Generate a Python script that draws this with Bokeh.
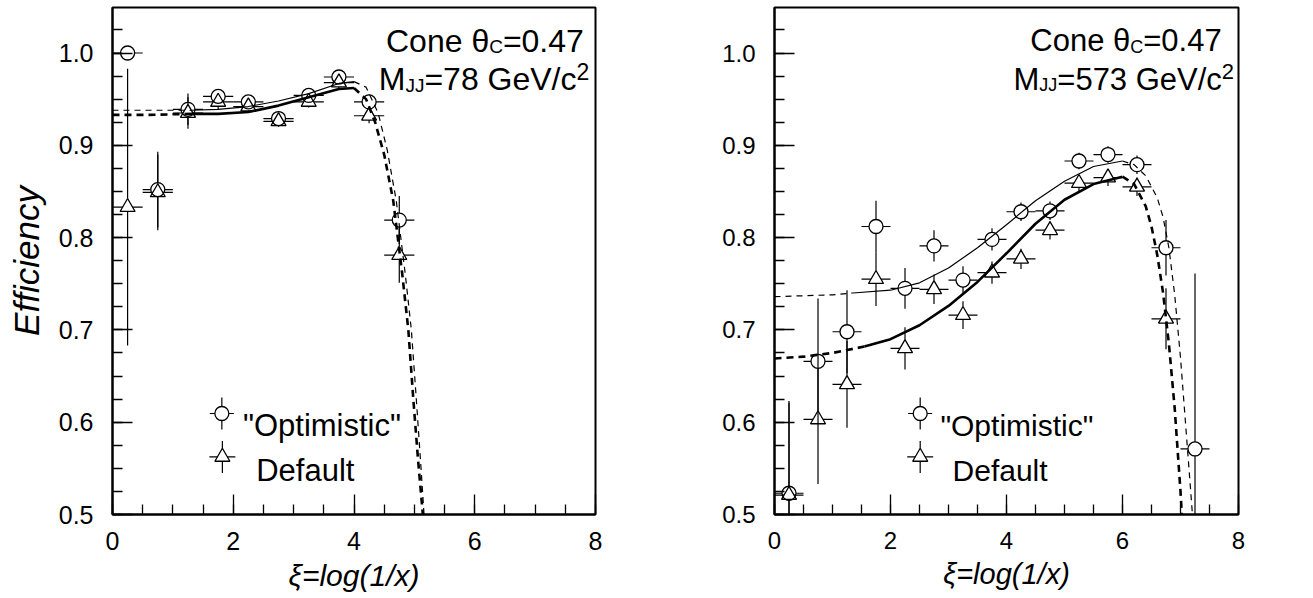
import math
from bokeh.plotting import figure
from bokeh.layouts import row
from bokeh.models import FixedTicker, Label, Range1d, NumeralTickFormatter
from bokeh.embed import file_html
from bokeh.resources import INLINE

# ---------------- data ----------------
bin_half = 0.25

# left panel: M_JJ = 78 GeV/c^2
xi_left = [0.25, 0.75, 1.25, 1.75, 2.25, 2.75, 3.25, 3.75, 4.25, 4.75]
opt_left = [1.000, 0.852, 0.939, 0.953, 0.947, 0.929, 0.954, 0.974, 0.947, 0.819]
opt_left_err = [0.0, 0.041, 0.017, 0.008, 0.006, 0.006, 0.006, 0.006, 0.008, 0.026]
def_left = [0.833, 0.849, 0.935, 0.947, 0.942, 0.926, 0.947, 0.968, 0.932, 0.781]
def_left_err = [0.150, 0.041, 0.017, 0.008, 0.006, 0.006, 0.006, 0.006, 0.008, 0.030]

# left panel fit curves (thin = "Optimistic", thick = Default)
optL_lo_x = [0.0, 0.6, 1.3]
optL_lo_y = [0.938, 0.938, 0.938]
optL_mid_x = [1.3, 1.75, 2.25, 2.75, 3.25, 3.75, 4.0]
optL_mid_y = [0.938, 0.939, 0.942, 0.948, 0.956, 0.967, 0.969]
optL_hi_x = [4.0, 4.2, 4.4, 4.55, 4.7, 4.85, 4.95, 5.03, 5.1, 5.16, 5.2]
optL_hi_y = [0.969, 0.963, 0.935, 0.895, 0.840, 0.760, 0.700, 0.627, 0.560, 0.500, 0.46]
defL_lo_x = [0.0, 0.6, 1.3]
defL_lo_y = [0.933, 0.933, 0.934]
defL_mid_x = [1.3, 1.75, 2.25, 2.75, 3.25, 3.75, 4.0]
defL_mid_y = [0.934, 0.934, 0.936, 0.943, 0.952, 0.961, 0.962]
defL_hi_x = [4.0, 4.2, 4.35, 4.5, 4.65, 4.8, 4.9, 4.98, 5.06, 5.14, 5.18]
defL_hi_y = [0.962, 0.950, 0.925, 0.890, 0.840, 0.760, 0.700, 0.627, 0.560, 0.500, 0.46]

# right panel: M_JJ = 573 GeV/c^2
xi_right = [0.25, 0.75, 1.25, 1.75, 2.25, 2.75, 3.25, 3.75, 4.25, 4.75, 5.25, 5.75, 6.25, 6.75, 7.25]
opt_right = [0.523, 0.666, 0.698, 0.812, 0.745, 0.791, 0.754, 0.798, 0.828, 0.829, 0.883, 0.890, 0.879, 0.789, 0.571]
opt_right_err = [0.100, 0.068, 0.045, 0.028, 0.022, 0.017, 0.015, 0.012, 0.010, 0.010, 0.009, 0.009, 0.010, 0.030, 0.190]
xi_right_def = [0.25, 0.75, 1.25, 1.75, 2.25, 2.75, 3.25, 3.75, 4.25, 4.75, 5.25, 5.75, 6.25, 6.75]
def_right = [0.521, 0.603, 0.641, 0.755, 0.680, 0.744, 0.716, 0.762, 0.777, 0.808, 0.859, 0.865, 0.855, 0.712]
def_right_err = [0.100, 0.070, 0.047, 0.029, 0.023, 0.016, 0.015, 0.012, 0.011, 0.010, 0.009, 0.009, 0.010, 0.033]

optR_lo_x = [0.0, 0.5, 1.0, 1.35]
optR_lo_y = [0.736, 0.737, 0.738, 0.740]
optR_mid_x = [1.35, 2.0, 2.5, 3.0, 3.5, 4.0, 4.5, 5.0, 5.5, 6.0]
optR_mid_y = [0.740, 0.743, 0.751, 0.767, 0.789, 0.814, 0.840, 0.861, 0.877, 0.883]
optR_hi_x = [6.0, 6.2, 6.4, 6.6, 6.7, 6.8, 6.9, 7.0, 7.1, 7.2, 7.25]
optR_hi_y = [0.883, 0.879, 0.867, 0.843, 0.822, 0.789, 0.738, 0.670, 0.588, 0.505, 0.46]
defR_lo_x = [0.0, 0.5, 1.0, 1.55]
defR_lo_y = [0.669, 0.671, 0.675, 0.682]
defR_mid_x = [1.55, 2.0, 2.5, 3.0, 3.5, 4.0, 4.5, 5.0, 5.5, 6.0]
defR_mid_y = [0.682, 0.690, 0.705, 0.726, 0.752, 0.783, 0.815, 0.841, 0.858, 0.866]
defR_hi_x = [6.0, 6.2, 6.4, 6.5, 6.6, 6.7, 6.8, 6.9, 7.0, 7.05]
defR_hi_y = [0.866, 0.858, 0.834, 0.812, 0.781, 0.740, 0.685, 0.615, 0.525, 0.47]

x_major = [0, 2, 4, 6, 8]
y_major = [0.5, 0.6, 0.7, 0.8, 0.9, 1.0]

# ---------------- layout constants ----------------
FONT = "Liberation Sans"
PX_Y = 923.0           # pixels per efficiency unit
FRAME_H = 507
Y_END = 0.5 + FRAME_H / PX_Y

ARIAL = {' ': 0.278, 'C': 0.722, 'o': 0.556, 'n': 0.556, 'e': 0.556, 'θ': 0.556,
         '=': 0.584, '.': 0.278, 'M': 0.833, 'J': 0.5, 'G': 0.778, 'V': 0.667,
         '/': 0.278, 'c': 0.5}
for d in "0123456789":
    ARIAL[d] = 0.556


def tw(s, size):
    return sum(ARIAL.get(ch, 0.556) for ch in s) * size


def make_fig(fw, bl, br, tick_fs, title_fs):
    p = figure(frame_width=fw, frame_height=FRAME_H, min_border_left=bl, min_border_right=br,
               min_border_top=7, min_border_bottom=78,
               x_range=Range1d(0, 8), y_range=Range1d(0.5, Y_END),
               output_backend="svg", toolbar_location=None)
    p.xgrid.visible = False
    p.ygrid.visible = False
    p.outline_line_color = "black"
    p.outline_line_width = 2
    p.background_fill_color = "white"
    p.border_fill_color = "white"
    p.xaxis.ticker = FixedTicker(ticks=x_major, minor_ticks=[0.5 * k for k in range(17)])
    p.yaxis.ticker = FixedTicker(ticks=y_major, minor_ticks=[0.5 + 0.025 * k for k in range(23)])
    p.xaxis.formatter = NumeralTickFormatter(format="0")
    p.yaxis.formatter = NumeralTickFormatter(format="0.0")
    for ax in (p.xaxis, p.yaxis):
        ax.axis_line_width = 2
        ax.axis_line_color = "black"
        ax.major_tick_in = 20
        ax.major_tick_out = 0
        ax.minor_tick_in = 10
        ax.minor_tick_out = 0
        ax.major_tick_line_width = 1.3
        ax.minor_tick_line_width = 1.3
        ax.major_tick_line_color = "black"
        ax.minor_tick_line_color = "black"
        ax.major_label_text_font = FONT
        ax.major_label_text_font_size = f"{tick_fs}px"
        ax.major_label_text_color = "black"
        ax.axis_label_text_font = FONT
        ax.axis_label_text_font_style = "italic"
        ax.axis_label_text_color = "black"
    p.xaxis.major_label_standoff = 17
    p.yaxis.major_label_standoff = 19
    p.xaxis.axis_label = "ξ=log(1/x)"
    p.xaxis.axis_label_text_font_size = f"{title_fs}px"
    p.xaxis.axis_label_standoff = 6
    return p


def errbars(p, xs, ys, errs, pxx, gx, gup, gdn):
    x0, y0, x1, y1 = [], [], [], []
    for x, y, e in zip(xs, ys, errs):
        x0 += [x - bin_half, x + gx / pxx]
        x1 += [x - gx / pxx, x + bin_half]
        y0 += [y, y]
        y1 += [y, y]
        if e * PX_Y > gup:
            x0.append(x); x1.append(x); y0.append(y + gup / PX_Y); y1.append(y + e)
        if e * PX_Y > gdn:
            x0.append(x); x1.append(x); y0.append(y - e); y1.append(y - gdn / PX_Y)
    p.segment(x0, y0, x1, y1, line_color="black", line_width=1.2)


def points(p, xs, ys, errs, marker, pxx):
    if marker == "circle":
        errbars(p, xs, ys, errs, pxx, 7, 7, 7)
        p.scatter(xs, ys, marker="circle", size=14, fill_color=None,
                  line_color="black", line_width=1.3)
    else:
        errbars(p, xs, ys, errs, pxx, 5, 8.7, 4.3)
        p.scatter(xs, ys, marker="triangle", size=15, fill_color=None,
                  line_color="black", line_width=1.3)


def curve(p, xs, ys, thick, dashed):
    p.line(xs, ys, line_color="black", line_width=2.6 if thick else 1.2,
           line_dash=("7 5" if thick else "6 5") if dashed else "solid")


def legend_marker(p, x, y, marker, pxx):
    if marker == "circle":
        gx, gup, gdn, hx = 7, 7, 7, 12
    else:
        gx, gup, gdn, hx = 5, 8.7, 4.3, 13
    vy = 16 / PX_Y
    p.segment([x - hx / pxx, x + gx / pxx, x, x], [y, y, y + gup / PX_Y, y - vy],
              [x - gx / pxx, x + hx / pxx, x, x], [y, y, y + vy, y - gdn / PX_Y],
              line_color="black", line_width=1.2)
    p.scatter([x], [y], marker=marker, size=14 if marker == "circle" else 15,
              fill_color=None, line_color="black", line_width=1.3)


def rich(p, x, y, pieces):
    off = 0.0
    for t, s, dy in pieces:
        p.add_layout(Label(x=x, y=y, x_offset=off, y_offset=dy, text=t,
                           text_font=FONT, text_font_size=f"{s}px",
                           text_color="black", text_align="left",
                           text_baseline="alphabetic"))
        off += tw(t, s)


def txt(p, x, y, t, s):
    p.add_layout(Label(x=x, y=y, text=t, text_font=FONT, text_font_size=f"{s}px",
                       text_color="black", text_align="left", text_baseline="alphabetic"))


# ---------------- left panel ----------------
PXX_L = 60.4
p1 = make_fig(483, 112, 20, 25, 30)
p1.yaxis.axis_label = "Efficiency"
p1.yaxis.axis_label_text_font_size = "35px"
p1.yaxis.axis_label_standoff = 10

curve(p1, optL_lo_x, optL_lo_y, False, True)
curve(p1, optL_mid_x, optL_mid_y, False, False)
curve(p1, optL_hi_x, optL_hi_y, False, True)
curve(p1, defL_lo_x, defL_lo_y, True, True)
curve(p1, defL_mid_x, defL_mid_y, True, False)
curve(p1, defL_hi_x, defL_hi_y, True, True)
points(p1, xi_left, opt_left, opt_left_err, "circle", PXX_L)
points(p1, xi_left, def_left, def_left_err, "triangle", PXX_L)

rich(p1, 4.53, 1.0131, [("Cone θ", 32, 0), ("C", 19, -6), ("=0.47", 32, 0)])
rich(p1, 4.41, 0.9713, [("M", 32, 0), ("JJ", 19, -6), ("=78 GeV/c", 32, 0), ("2", 23, 8)])

legend_marker(p1, 1.811, 0.6094, "circle", PXX_L)
legend_marker(p1, 1.820, 0.5624, "triangle", PXX_L)
txt(p1, 2.16, 0.5967, '"Optimistic"', 31)
txt(p1, 2.38, 0.5480, "Default", 31)

# ---------------- right panel ----------------
PXX_R = 58.0
p2 = make_fig(464, 159, 12, 24, 29)
curve(p2, optR_lo_x, optR_lo_y, False, True)
curve(p2, optR_mid_x, optR_mid_y, False, False)
curve(p2, optR_hi_x, optR_hi_y, False, True)
curve(p2, defR_lo_x, defR_lo_y, True, True)
curve(p2, defR_mid_x, defR_mid_y, True, False)
curve(p2, defR_hi_x, defR_hi_y, True, True)
points(p2, xi_right, opt_right, opt_right_err, "circle", PXX_R)
points(p2, xi_right_def, def_right, def_right_err, "triangle", PXX_R)

rich(p2, 4.41, 1.0131, [("Cone θ", 31, 0), ("C", 18, -6), ("=0.47", 31, 0)])
rich(p2, 4.12, 0.9713, [("M", 31, 0), ("JJ", 18, -6), ("=573 GeV/c", 31, 0), ("2", 22, 8)])

legend_marker(p2, 2.512, 0.6094, "circle", PXX_R)
legend_marker(p2, 2.512, 0.5624, "triangle", PXX_R)
txt(p2, 2.86, 0.5967, '"Optimistic"', 30)
txt(p2, 3.07, 0.5480, "Default", 30)

layout = row(p1, p2)
open("out.html", "w").write(file_html(layout, INLINE))
